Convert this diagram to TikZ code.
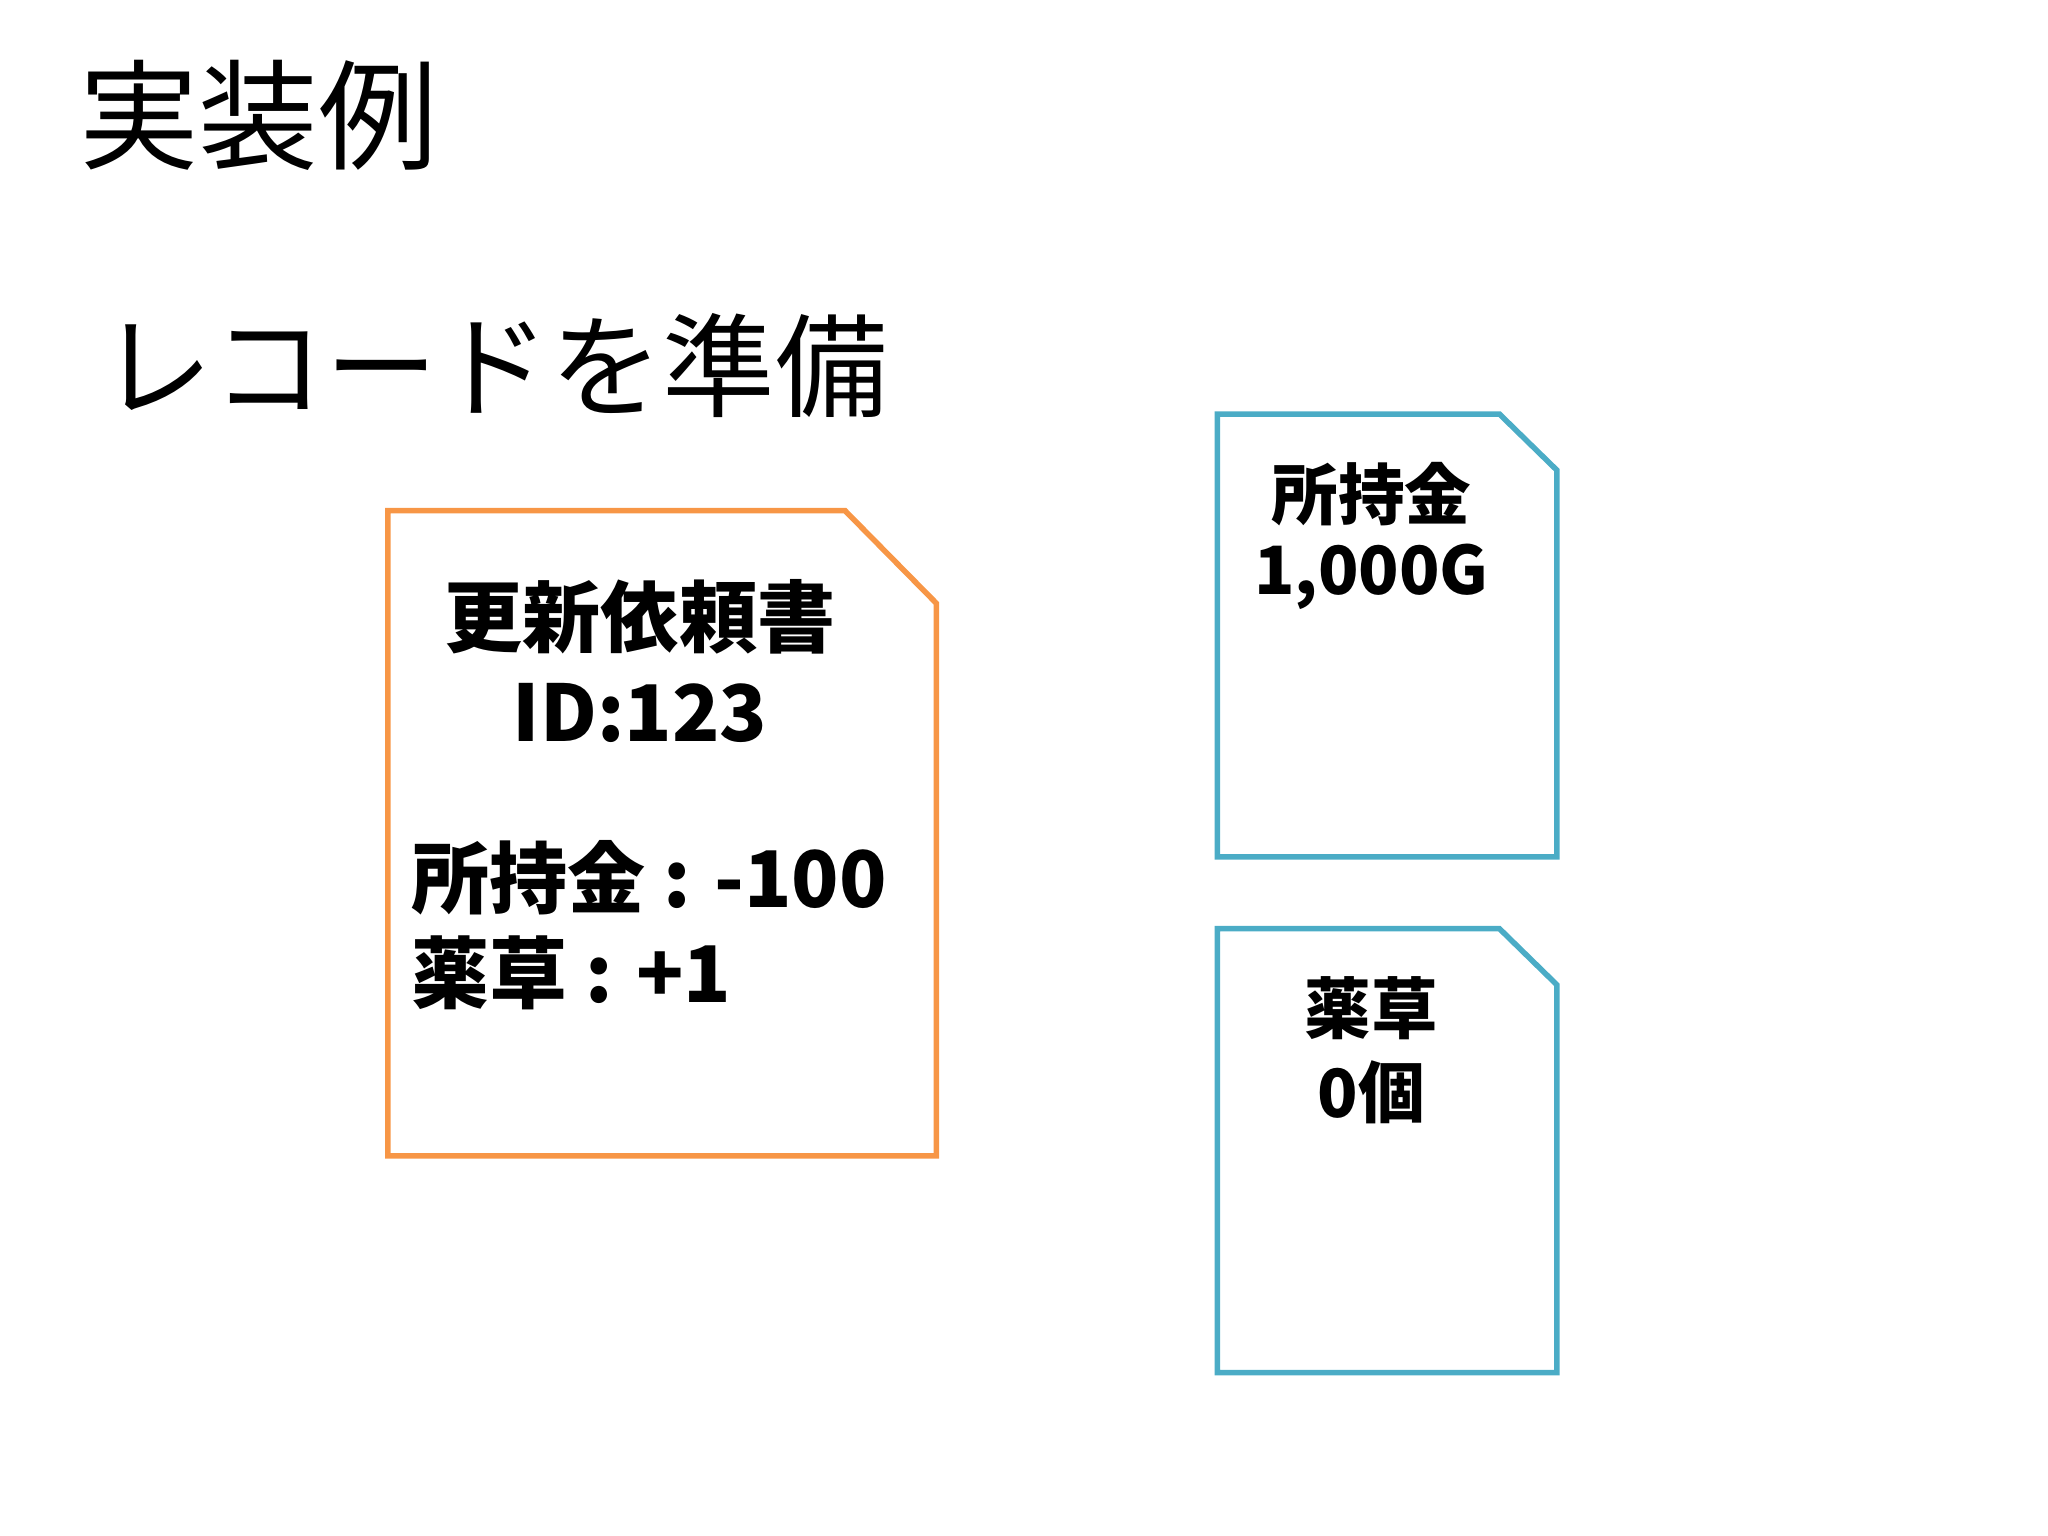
\documentclass[tikz,border=0pt]{standalone}
\usepackage{fontspec}
\setmainfont{Noto Sans CJK JP}
\newfontfamily\jpb{Noto Sans CJK JP}[FakeBold=0]
\definecolor{orng}{HTML}{F79646}
\definecolor{blu}{HTML}{4BACC6}
\begin{document}
\begin{tikzpicture}[x=0.01cm,y=-0.01cm,
  doc/.style={line width=1.2pt,line join=miter},
  big/.style={font=\fontsize{26}{30}\selectfont,anchor=west,inner sep=0},
  bt/.style={font=\bfseries\fontsize{17}{20}\selectfont,inner sep=0},
  st/.style={font=\bfseries\fontsize{14.5}{17}\selectfont,inner sep=0}]
\useasboundingbox (0,0) rectangle (1568,1176);
\node[big] (t1) at (60,88) {実装例};
\node[big,font=\fontsize{24.5}{28}\selectfont] (t2) at (76,280) {レコードを準備};
\draw[doc,orng] (297,391) -- (647,391) -- (717,462) -- (717,885) -- (297,885) -- cycle;
\draw[doc,blu] (932,317) -- (1148,317) -- (1192,360) -- (1192,656) -- (932,656) -- cycle;
\draw[doc,blu] (932,711) -- (1148,711) -- (1192,754) -- (1192,1051) -- (932,1051) -- cycle;
\node[bt] (a1) at (490,472) {更新依頼書};
\node[bt] (a2) at (490,546) {ID:123};
\node[bt,anchor=west] (a3) at (314,672) {所持金 : -100};
\node[bt,anchor=west] (a4) at (314,745) {薬草 : +1};
\node[st] (b1) at (1050,378) {所持金};
\node[st] (b2) at (1050,442) {1,000G};
\node[st] (c1) at (1050,772) {薬草};
\node[st] (c2) at (1050,836) {0個};
\end{tikzpicture}
\end{document}
